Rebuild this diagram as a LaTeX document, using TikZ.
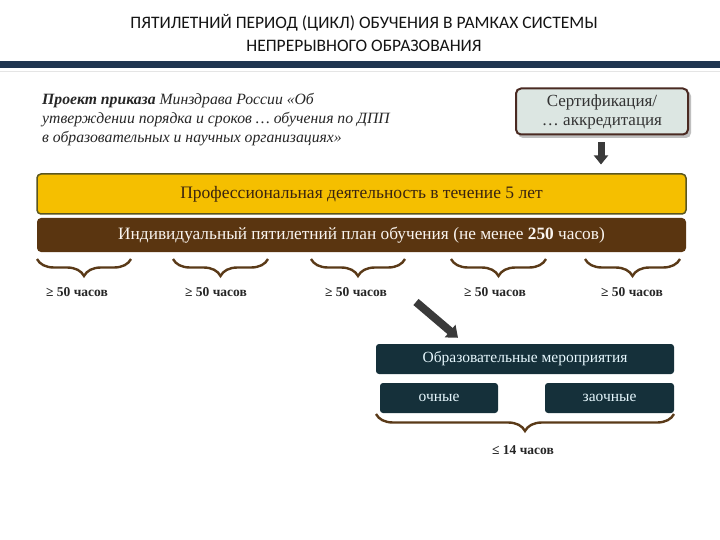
\documentclass[tikz,border=0pt]{standalone}
\usepackage{fontspec}
\setmainfont{Liberation Serif}
\newfontfamily\titlefont{Carlito}
\usetikzlibrary{decorations.pathreplacing,arrows.meta}
\definecolor{navy}{HTML}{1F3550}
\definecolor{gold}{HTML}{F5BF00}
\definecolor{olive}{HTML}{5A5620}
\definecolor{brownbar}{HTML}{5A3510}
\definecolor{bracec}{HTML}{5A3A18}
\definecolor{darkbox}{HTML}{15303A}
\definecolor{certfill}{HTML}{DCE6E2}
\definecolor{certline}{HTML}{4A2A22}
\definecolor{arrowc}{HTML}{3A3A3A}
\definecolor{txtbrown}{HTML}{3A2410}
\tikzset{
  bar/.style={rounded corners=4pt, minimum height=#1, inner sep=0pt},
  darkbox/.style={fill=darkbox, rounded corners=3pt, text=white!90!cyan, font=\fontsize{15.5}{18}\selectfont, inner sep=0pt},
  bracedec/.style={decorate, decoration={brace, mirror, amplitude=17pt}, line width=2.4pt, draw=bracec},
  hrs/.style={font=\bfseries\fontsize{13.5}{15}\selectfont, text=black!85},
  blockarrow/.style={draw=arrowc, line width=#1, -{Triangle[width=2*#1,length=1.3*#1]}}
}
\begin{document}
\begin{tikzpicture}[x=1pt,y=-1pt]
\useasboundingbox (0,0) rectangle (720,540);
\fill[white] (0,0) rectangle (720,540);
% title
\node[font=\titlefont\fontsize{17.5}{23}\selectfont, text=black!92, align=center] (title) at (364,33.5)
  {ПЯТИЛЕТНИЙ ПЕРИОД (ЦИКЛ) ОБУЧЕНИЯ В РАМКАХ СИСТЕМЫ\\НЕПРЕРЫВНОГО ОБРАЗОВАНИЯ};
\fill[navy] (0,61) rectangle (720,68);
\draw[black!10, line width=0.8pt] (0,71) -- (720,71);
% project text
\node[anchor=north west, align=left, font=\itshape\fontsize{15.7}{19}\selectfont, text=black!85, inner sep=0pt] (proj) at (42,93)
  {\textbf{Проект приказа} Минздрава России «Об\\утверждении порядка и сроков \dots\ обучения по ДПП\\в образовательных и научных организациях»};
% certification box
\fill[black!25, rounded corners=5pt] (518,91) rectangle (691,138);
\node[draw=certline, line width=2pt, fill=certfill, rounded corners=5pt, minimum width=172pt, minimum height=46pt, align=center, font=\fontsize{17}{19}\selectfont, text=black!80] (cert) at (602,111.5)
  {Сертификация/\\\dots\ аккредитация};
% bars
\node[bar=40pt, fill=gold, draw=olive, line width=1.5pt, minimum width=649pt, font=\fontsize{17.5}{20}\selectfont, text=txtbrown] (prof) at (361.5,194)
  {Профессиональная деятельность в течение 5 лет};
\node[bar=34pt, fill=brownbar, minimum width=649pt, font=\fontsize{17.3}{20}\selectfont, text=white!92!brown] (plan) at (361.5,235)
  {Индивидуальный пятилетний план обучения (не менее \textbf{250} часов)};
\path (cert.south -| 601,0) ++(0,7) coordinate (da1) ++(0,22) coordinate (da2);
\draw[blockarrow=7pt] (da1) -- (da2);
% braces
\foreach \a/\b/\i/\c in {37/131/1/77, 173/268/2/216, 311/405/3/356, 451/546/4/495, 585/680/5/632}{
  \coordinate (bl\i) at (\a,259);
  \coordinate (br\i) at (\b,259);
  \draw[bracedec] (bl\i) -- (br\i);
  \node[hrs] (h\i) at (\c,292) {≥ 50 часов};
}
% educational events
\node[darkbox, minimum width=298pt, minimum height=30pt] (edu) at (525,359) {Образовательные мероприятия};
\node[darkbox, minimum width=118pt, minimum height=30pt] (och) at (439,398) {очные};
\node[darkbox, minimum width=129pt, minimum height=30pt] (zao) at (609.5,398) {заочные};
\coordinate (ea) at (416,302);
\path (edu.north -| 458,0) ++(0,-6) coordinate (eb);
\draw[blockarrow=8pt] (ea) -- (eb);
\draw[bracedec] (376,414) -- (674,414);
\node[hrs] (h14) at (523,450) {≤ 14 часов};
\end{tikzpicture}
\end{document}
